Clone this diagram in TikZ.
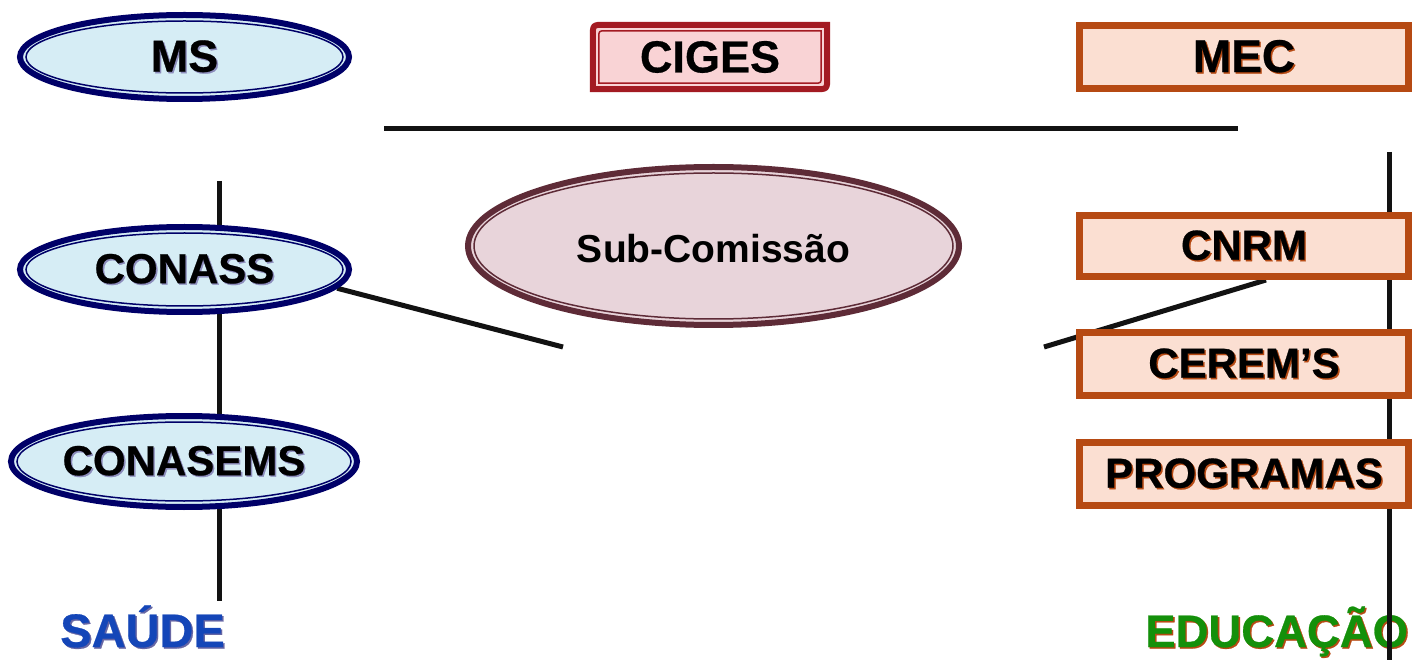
\documentclass[tikz,border=0pt]{standalone}
\usepackage{fontspec}
\setmainfont{Liberation Sans}
\newfontfamily\heavyfont[FakeBold=0.6]{Liberation Sans Bold}
\usetikzlibrary{shapes.geometric,backgrounds,calc}
\definecolor{navyB}{HTML}{000068}
\definecolor{blueF}{HTML}{D6EDF5}
\definecolor{cigB}{HTML}{A31A22}
\definecolor{cigF}{HTML}{F9D3D5}
\definecolor{mecB}{HTML}{B64A13}
\definecolor{mecF}{HTML}{FBDFD2}
\definecolor{subB}{HTML}{5E2B37}
\definecolor{subF}{HTML}{E8D4DA}
\definecolor{saudeC}{HTML}{1446B8}
\definecolor{eduC}{HTML}{14900A}
\newcommand\shadowtxt[2]{\makebox[0pt][l]{\hspace{1.5pt}\raisebox{-1.5pt}{\textcolor{#1}{#2}}}#2}
\begin{document}
\begin{tikzpicture}[x=1pt,y=-1pt,
  ell/.style={ellipse, draw=navyB, fill=blueF, line width=6, inner sep=0},
  box/.style={rectangle, draw=mecB, fill=mecF, line width=6, minimum width=330, minimum height=64, inner sep=0},
  lbl/.style={font=\heavyfont\fontsize{#1}{#1}\selectfont},
  lbl/.default=42,
  conn/.style={line width=5, draw=black!93},
  innerE/.style={draw=navyB, line width=1.5},
  innerM/.style={draw=mecB, line width=1.5},
]
\useasboundingbox (0,0) rectangle (1414,660);

% Health side
\node[ell, minimum width=329, minimum height=84,
  label={[lbl=45]center:\shadowtxt{navyB!45}{MS}}] (MS) at (184.5,57) {};
\draw[innerE] (MS.center) ellipse [x radius=158.5, y radius=36];

\node[ell, minimum width=329, minimum height=85,
  label={[lbl]center:\shadowtxt{navyB!45}{CONASS}}] (CONASS) at (184.5,269.5) {};
\draw[innerE] (CONASS.center) ellipse [x radius=158.5, y radius=36.5];

\node[ell, minimum width=346, minimum height=91,
  label={[lbl]center:\shadowtxt{navyB!45}{CONASEMS}}] (CONASEMS) at (184,461.5) {};
\draw[innerE] (CONASEMS.center) ellipse [x radius=167, y radius=39.5];

\node[anchor=base, inner sep=0, lbl=47, text=saudeC] (SAUDE) at (142.5,647) {\shadowtxt{navyB!60}{SAÚDE}};

% CIGES
\node[rectangle, minimum width=234, minimum height=64, inner sep=0,
  lbl=45] (CIGES) at (710,57) {CIGES};

% Sub-Comissao
\node[ellipse, draw=subB, fill=subF, line width=6, inner sep=0,
  minimum width=491, minimum height=158,
  label={[font=\bfseries\fontsize{39}{39}\selectfont, yshift=-3pt]center:Sub-Comissão}] (SUB) at (713.5,246) {};
\draw[draw=subB, line width=1.5] (SUB.center) ellipse [x radius=239.5, y radius=73];

% Education side
\node[box, label={[lbl=46]center:\shadowtxt{mecB}{MEC}}] (MEC) at (1244,57) {};
\draw[innerM] ([shift={(6,6)}]MEC.north west) rectangle ([shift={(-6,-6)}]MEC.south east);

\node[box, minimum height=62, label={[lbl]center:\shadowtxt{mecB}{CNRM}}] (CNRM) at (1244,246) {};
\draw[innerM] ([shift={(6,6)}]CNRM.north west) rectangle ([shift={(-6,-6)}]CNRM.south east);

\node[box, label={[lbl]center:\shadowtxt{mecB}{CEREM’S}}] (CEREMS) at (1244,364) {};
\draw[innerM] ([shift={(6,6)}]CEREMS.north west) rectangle ([shift={(-6,-6)}]CEREMS.south east);

\node[box, label={[lbl]center:\shadowtxt{mecB}{PROGRAMAS}}] (PROG) at (1244,474) {};
\draw[innerM] ([shift={(6,6)}]PROG.north west) rectangle ([shift={(-6,-6)}]PROG.south east);

% free ends
\coordinate (st) at (219,181);
\coordinate (sb) at (219,601);
\coordinate (et) at (1389,152);
\coordinate (eb) at (1389,664);
\coordinate (h1) at (384,129);
\coordinate (h2) at (1238,129);
\coordinate (c1) at (563,347);
\coordinate (c2) at (1044,347);

\begin{scope}[on background layer]
  % CIGES frame with two rounded corners
  \draw[draw=cigB, fill=cigF, line width=6]
    ($(CIGES.north west)+(12,0)$) -- (CIGES.north east)
    -- ($(CIGES.south east)+(0,-12)$) .. controls (CIGES.south east) .. ($(CIGES.south east)+(-12,0)$)
    -- (CIGES.south west)
    -- ($(CIGES.north west)+(0,12)$) .. controls (CIGES.north west) .. cycle;
  \draw[draw=cigB, line width=1.5]
    ($(CIGES.north west)+(13,6)$) -- ($(CIGES.north east)+(-6,6)$)
    -- ($(CIGES.south east)+(-6,-13)$) .. controls ($(CIGES.south east)+(-6,-6)$) .. ($(CIGES.south east)+(-13,-6)$)
    -- ($(CIGES.south west)+(6,-6)$)
    -- ($(CIGES.north west)+(6,13)$) .. controls ($(CIGES.north west)+(6,6)$) .. cycle;

  \node[anchor=base west, inner sep=0, lbl=45.5, text=eduC] (EDU) at (1145,647) {\shadowtxt{mecB}{EDUCAÇÃO}};

  \draw[conn] (st) -- (sb);
  \draw[conn] (et) -- (eb);
  \draw[conn] (h1) -- (h2);
  \draw[conn] (CONASS.-7) -- (c1);
  \draw[conn] (c2) -- ([xshift=22pt]CNRM.south);
\end{scope}
\end{tikzpicture}
\end{document}
